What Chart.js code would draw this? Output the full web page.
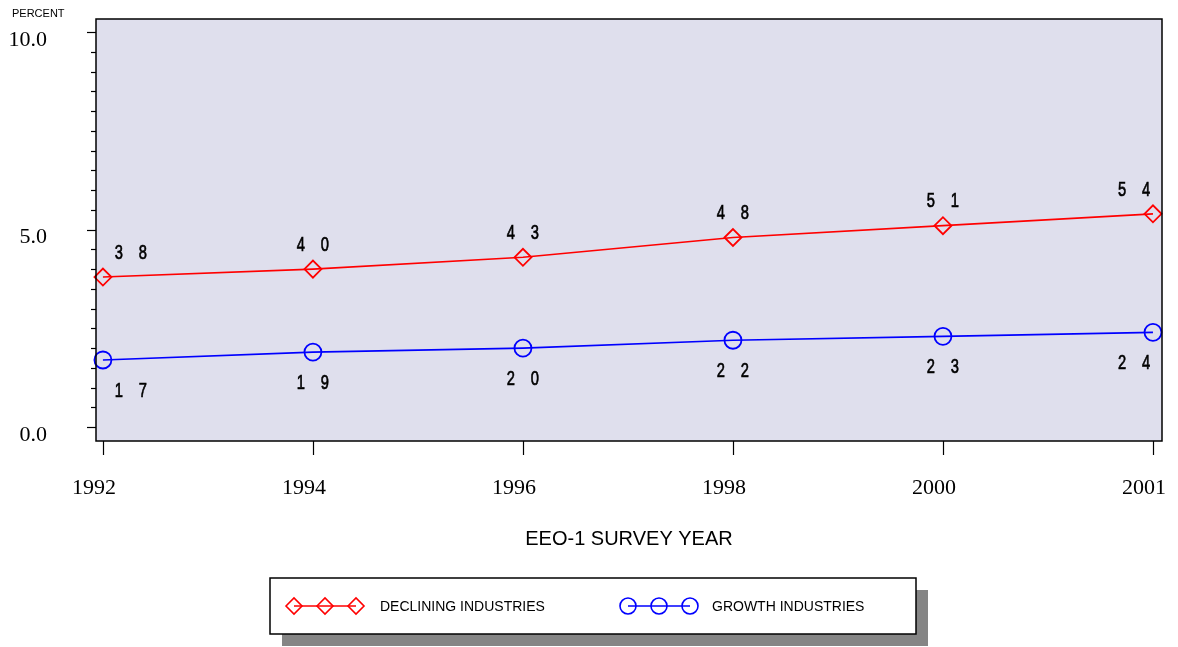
<!doctype html>
<html lang="en">
<head>
    <meta charset="utf-8">
    <style>
        html,
        body {
            margin: 0;
            padding: 0;
            background: #ffffff;
        }

        #wrap {
            width: 1178px;
            height: 647px;
        }
    </style>
    <script src="https://cdn.jsdelivr.net/npm/chart.js@4/dist/chart.umd.min.js"></script>
</head>

<body>
    <div id="wrap"><canvas id="myChart" width="1178" height="647"></canvas></div>

    <script>
        // survey years (equally spaced on the axis)
        const years = ['1992', '1994', '1996', '1998', '2000', '2001']
        // percent values
        const declining = [3.8, 4.0, 4.3, 4.8, 5.1, 5.4]
        const growth = [1.7, 1.9, 2.0, 2.2, 2.3, 2.4]
        // y axis: labelled ticks and minor step
        const yLabelled = [0, 5, 10]
        const yStep = 0.5

        const seriesNames = ['DECLINING INDUSTRIES', 'GROWTH INDUSTRIES']

        const serif = "'Liberation Serif', 'Times New Roman', serif"
        const sans = "'Liberation Sans', Arial, sans-serif"

        function toPoints(arr) {
            return arr.map((v, i) => ({ x: i, y: v }))
        }

        function noPad(scale) {
            scale.paddingLeft = 0
            scale.paddingRight = 0
            scale.paddingTop = 0
            scale.paddingBottom = 0
        }

        // plot background, frame, tick marks, y title
        const framePlugin = {
            id: 'frame',
            beforeDatasetsDraw(chart) {
                const { ctx, chartArea: a } = chart
                ctx.save()
                ctx.fillStyle = 'rgb(223,223,237)'
                ctx.fillRect(a.left, a.top, a.right - a.left, a.bottom - a.top)
                ctx.restore()
            },
            afterDraw(chart) {
                const { ctx, chartArea: a, scales } = chart
                ctx.save()
                ctx.strokeStyle = '#000'
                ctx.lineWidth = 1.5
                ctx.strokeRect(a.left, a.top, a.right - a.left, a.bottom - a.top)

                // y ticks
                ctx.lineWidth = 1.2
                scales.y.ticks.forEach(t => {
                    const py = Math.round(scales.y.getPixelForValue(t.value)) + 0.5
                    const major = yLabelled.includes(t.value)
                    ctx.beginPath()
                    ctx.moveTo(a.left - (major ? 9 : 5), py)
                    ctx.lineTo(a.left, py)
                    ctx.stroke()
                })
                // x ticks
                scales.x.ticks.forEach(t => {
                    const px = Math.round(scales.x.getPixelForValue(t.value)) + 0.5
                    ctx.beginPath()
                    ctx.moveTo(px, a.bottom)
                    ctx.lineTo(px, a.bottom + 14)
                    ctx.stroke()
                })

                ctx.fillStyle = '#000'
                ctx.font = '11px ' + sans
                ctx.textBaseline = 'middle'
                ctx.textAlign = 'left'
                ctx.fillText('PERCENT', 12, 14)
                ctx.restore()
            }
        }

        // value labels, drawn as two spaced narrow digits
        const valueLabels = {
            id: 'valueLabels',
            afterDatasetsDraw(chart) {
                const { ctx } = chart
                const squeeze = 0.7
                ctx.save()
                ctx.fillStyle = '#000'
                ctx.strokeStyle = '#000'
                ctx.lineWidth = 0.7
                ctx.font = '21px ' + sans
                ctx.textAlign = 'center'
                ctx.textBaseline = 'middle'
                chart.data.datasets.forEach((ds, di) => {
                    const meta = chart.getDatasetMeta(di)
                    const n = meta.data.length
                    meta.data.forEach((pt, i) => {
                        const digits = ds.data[i].y.toFixed(1).replace('.', '')
                        let dx = 0
                        if (i === 0) dx = 28
                        if (i === n - 1) dx = -19
                        const dy = di === 0 ? -25 : 30
                        const cx = [pt.x + dx - 12, pt.x + dx + 12]
                        cx.forEach((x, k) => {
                            ctx.save()
                            ctx.translate(x, pt.y + dy)
                            ctx.scale(squeeze, 1)
                            ctx.fillText(digits[k], 0, 1)
                            ctx.strokeText(digits[k], 0, 1)
                            ctx.restore()
                        })
                    })
                })
                ctx.restore()
            }
        }

        // boxed legend with shadow
        const boxLegend = {
            id: 'boxLegend',
            afterDraw(chart) {
                const { ctx } = chart
                const bx = 270, by = 578, bw = 646, bh = 56
                ctx.save()
                ctx.fillStyle = '#858585'
                ctx.fillRect(bx + 12, by + 12, bw, bh)
                ctx.fillStyle = '#fff'
                ctx.fillRect(bx, by, bw, bh)
                ctx.strokeStyle = '#000'
                ctx.lineWidth = 1.5
                ctx.strokeRect(bx, by, bw, bh)

                const items = [
                    { x0: 294, tx: 380 },
                    { x0: 628, tx: 712 }
                ]
                const cy = 606
                chart.data.datasets.forEach((ds, di) => {
                    const it = items[di]
                    const xs = [it.x0, it.x0 + 31, it.x0 + 62]
                    ctx.strokeStyle = ds.borderColor
                    ctx.lineWidth = 1.6
                    ctx.beginPath()
                    ctx.moveTo(xs[0], cy)
                    ctx.lineTo(xs[2], cy)
                    ctx.stroke()
                    ctx.fillStyle = 'rgba(0,0,0,0)'
                    xs.forEach(x => {
                        Chart.helpers.drawPoint(ctx, {
                            pointStyle: ds.pointStyle,
                            radius: 8,
                            borderWidth: 1.6
                        }, x, cy)
                    })
                    ctx.fillStyle = '#000'
                    ctx.font = '14px ' + sans
                    ctx.textAlign = 'left'
                    ctx.textBaseline = 'middle'
                    ctx.fillText(ds.label, it.tx, cy + 1)
                })
                ctx.restore()
            }
        }

        const ctx = document.getElementById('myChart')
        const myChart = new Chart(ctx, {
            type: 'line',
            data: {
                datasets: [{
                    label: seriesNames[0],
                    data: toPoints(declining),
                    borderColor: 'rgb(255,0,0)',
                    backgroundColor: 'rgba(0,0,0,0)',
                    borderWidth: 1.7,
                    pointStyle: 'rectRot',
                    pointRadius: 8.5,
                    pointBorderWidth: 1.8,
                    pointBorderColor: 'rgb(255,0,0)',
                    pointBackgroundColor: 'rgba(0,0,0,0)',
                    tension: 0,
                    clip: false
                }, {
                    label: seriesNames[1],
                    data: toPoints(growth),
                    borderColor: 'rgb(0,0,255)',
                    backgroundColor: 'rgba(0,0,0,0)',
                    borderWidth: 1.7,
                    pointStyle: 'circle',
                    pointRadius: 8.5,
                    pointBorderWidth: 1.8,
                    pointBorderColor: 'rgb(0,0,255)',
                    pointBackgroundColor: 'rgba(0,0,0,0)',
                    tension: 0,
                    clip: false
                }]
            },
            options: {
                responsive: false,
                animation: false,
                layout: {
                    padding: { top: 19, right: 16, left: 0, bottom: 96 }
                },
                plugins: {
                    legend: { display: false },
                    tooltip: { enabled: false }
                },
                scales: {
                    x: {
                        type: 'linear',
                        min: -0.033,
                        max: 5.043,
                        afterBuildTicks(scale) {
                            scale.ticks = years.map((y, i) => ({ value: i }))
                        },
                        afterFit(scale) {
                            scale.height = 110
                            noPad(scale)
                        },
                        grid: { display: false, drawTicks: false },
                        border: { display: false },
                        ticks: {
                            padding: 34,
                            labelOffset: -9,
                            maxRotation: 0,
                            autoSkip: false,
                            color: '#000',
                            font: { family: serif, size: 22 },
                            callback: v => years[v]
                        },
                        title: {
                            display: true,
                            text: 'EEO-1 SURVEY YEAR',
                            color: '#000',
                            font: { family: sans, size: 20 },
                            padding: { top: 0, bottom: 0 }
                        }
                    },
                    y: {
                        min: -0.35,
                        max: 10.33,
                        afterBuildTicks(scale) {
                            const t = []
                            for (let v = 0; v <= 10 + 1e-9; v += yStep) t.push({ value: Math.round(v * 10) / 10 })
                            scale.ticks = t
                        },
                        afterFit(scale) {
                            scale.width = 96
                            noPad(scale)
                        },
                        grid: { display: false, drawTicks: false },
                        border: { display: false },
                        ticks: {
                            padding: 49,
                            labelOffset: 8,
                            autoSkip: false,
                            color: '#000',
                            font: { family: serif, size: 22 },
                            callback: v => yLabelled.includes(v) ? v.toFixed(1) : ''
                        }
                    }
                }
            },
            plugins: [framePlugin, valueLabels, boxLegend]
        })
    </script>
</body>
</html>
